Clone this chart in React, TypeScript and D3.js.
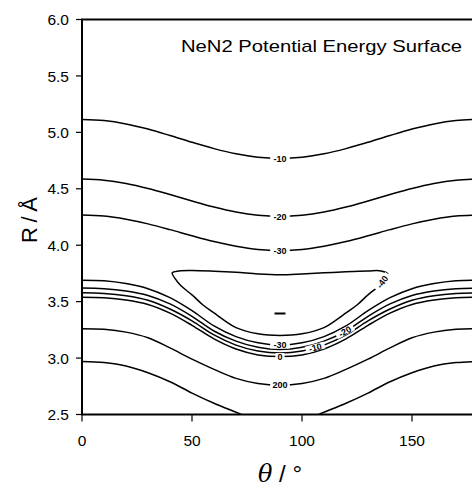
import React from 'react';
import * as d3 from 'd3';

// ---- data ----
const THETA = [0, 10, 20, 30, 40, 50, 60, 70, 80, 90, 100, 110, 120, 130, 140, 150, 160, 170, 180];

// open contour lines R(θ) in Å
const C_UP_M10 = [5.115, 5.105, 5.075, 5.029, 4.972, 4.912, 4.856, 4.81, 4.78, 4.77, 4.78, 4.81, 4.856, 4.912, 4.972, 5.029, 5.075, 5.105, 5.115];
const C_UP_M20 = [4.586, 4.576, 4.547, 4.503, 4.449, 4.392, 4.338, 4.294, 4.265, 4.255, 4.265, 4.294, 4.338, 4.392, 4.449, 4.503, 4.547, 4.576, 4.586];
const C_UP_M30 = [4.267, 4.258, 4.23, 4.189, 4.138, 4.083, 4.032, 3.991, 3.963, 3.954, 3.963, 3.991, 4.032, 4.083, 4.138, 4.189, 4.23, 4.258, 4.267];
const C_LO_M30 = [3.69, 3.685, 3.66, 3.615, 3.535, 3.42, 3.285, 3.19, 3.135, 3.115, 3.135, 3.19, 3.285, 3.42, 3.535, 3.615, 3.66, 3.685, 3.69];
const C_LO_M20 = [3.62, 3.615, 3.595, 3.555, 3.48, 3.37, 3.24, 3.15, 3.095, 3.075, 3.095, 3.15, 3.24, 3.37, 3.48, 3.555, 3.595, 3.615, 3.62];
const C_LO_M10 = [3.578, 3.573, 3.553, 3.513, 3.435, 3.33, 3.205, 3.115, 3.062, 3.044, 3.062, 3.115, 3.205, 3.33, 3.435, 3.513, 3.553, 3.573, 3.578];
const C_LO_0 = [3.54, 3.535, 3.515, 3.475, 3.398, 3.29, 3.17, 3.08, 3.028, 3.013, 3.028, 3.08, 3.17, 3.29, 3.398, 3.475, 3.515, 3.535, 3.54];
const C_LO_200 = [3.26, 3.255, 3.23, 3.18, 3.09, 2.99, 2.9, 2.82, 2.775, 2.76, 2.775, 2.82, 2.9, 2.99, 3.09, 3.18, 3.23, 3.255, 3.26];
const C_LO_HIGH = [2.97, 2.96, 2.93, 2.87, 2.79, 2.69, 2.6, 2.52, 2.44, 2.42, 2.44, 2.52, 2.6, 2.69, 2.79, 2.87, 2.93, 2.96, 2.97];

const LINES = [C_UP_M10, C_UP_M20, C_UP_M30, C_LO_M30, C_LO_M20, C_LO_M10, C_LO_0, C_LO_200, C_LO_HIGH];
// labels: which line, text, θ where it sits
const LABEL_LINE = [0, 1, 2, 3, 4, 5, 6, 7];
const LABEL_TEXT = ['-10', '-20', '-30', '-30', '-20', '-10', '0', '200'];
const LABEL_THETA = [90, 90, 90, 90, 119.5, 106, 90, 90];

// closed -40 contour (θ, R)
const WELL_THETA = [41, 44, 50, 60, 70, 80, 90, 100, 110, 120, 130, 136, 139, 138, 136.5, 135, 130, 125, 120, 115, 110, 100, 90, 80, 70, 65, 60, 55, 50, 45, 42.5];
const WELL_R = [3.755, 3.772, 3.776, 3.77, 3.76, 3.745, 3.738, 3.745, 3.755, 3.765, 3.772, 3.772, 3.745, 3.715, 3.675, 3.64, 3.56, 3.47, 3.40, 3.33, 3.27, 3.215, 3.2, 3.215, 3.27, 3.33, 3.40, 3.47, 3.56, 3.64, 3.70];
const WELL_LABEL = '-40';
const WELL_LABEL_INDEX = 14;

// minimum marker
const MIN_THETA = 90;
const MIN_R = 3.394;

const X_TICKS = [0, 50, 100, 150];
const Y_TICKS = [2.5, 3.0, 3.5, 4.0, 4.5, 5.0, 5.5, 6.0];
const TITLE = 'NeN2 Potential Energy Surface';

const W = 472;
const H = 487;
const FONT = '"Liberation Sans", Arial, Helvetica, sans-serif';

export default function App() {
  const x = d3.scaleLinear().domain([0, 180]).range([82, 478]);
  const y = d3.scaleLinear().domain([2.5, 6.0]).range([414.5, 19.5]);

  const line = d3
    .line<number>()
    .x((_, i) => x(THETA[i]))
    .y((d) => y(d))
    .curve(d3.curveCatmullRom.alpha(0.5));

  const wellLine = d3
    .line<number>()
    .x((_, i) => x(WELL_THETA[i]))
    .y((d) => y(d))
    .curve(d3.curveCatmullRomClosed.alpha(0.5));

  const interp = (vals: number[], t: number) => {
    const i = Math.min(THETA.length - 2, Math.floor(t / 10));
    const f = (t - THETA[i]) / (THETA[i + 1] - THETA[i]);
    return vals[i] + (vals[i + 1] - vals[i]) * f;
  };

  const labels = LABEL_LINE.map((li, k) => {
    const vals = LINES[li];
    const t = LABEL_THETA[k];
    const px = x(t);
    const py = y(interp(vals, t));
    const dx = x(t + 2) - x(t - 2);
    const dy = y(interp(vals, t + 2)) - y(interp(vals, t - 2));
    const ang = (Math.atan2(dy, dx) * 180) / Math.PI;
    return { px, py, ang, text: LABEL_TEXT[k] };
  });

  const wi = WELL_LABEL_INDEX;
  const wpx = x(WELL_THETA[wi]);
  const wpy = y(WELL_R[wi]);
  const wang =
    (Math.atan2(y(WELL_R[wi - 2]) - y(WELL_R[wi + 1]), x(WELL_THETA[wi - 2]) - x(WELL_THETA[wi + 1])) * 180) / Math.PI;

  const labelW = (s: string) => s.length * 5.2 + 4;

  return (
    <svg
      width={W}
      height={H}
      style={{ position: 'absolute', left: 0, top: 0, background: '#fff', display: 'block' }}
      fontFamily={FONT}
    >
      <defs>
        <clipPath id="plotclip">
          <rect x={x(0)} y={y(6)} width={x(180) - x(0)} height={y(2.5) - y(6)} />
        </clipPath>
      </defs>
      <rect x={0} y={0} width={W} height={H} fill="#fff" />

      <g clipPath="url(#plotclip)" fill="none" stroke="#000" strokeWidth={1.5}>
        {LINES.map((vals, i) => (
          <path key={i} d={line(vals) || ''} />
        ))}
        <path d={wellLine(WELL_R) || ''} />
        <line
          x1={x(MIN_THETA - 2.5)}
          x2={x(MIN_THETA + 2.5)}
          y1={y(MIN_R)}
          y2={y(MIN_R)}
          strokeWidth={2}
        />
      </g>

      {labels.map((l, i) => (
        <g key={i} transform={`translate(${l.px},${l.py}) rotate(${l.ang})`}>
          <rect x={-labelW(l.text) / 2} y={-3.5} width={labelW(l.text)} height={7} fill="#fff" />
          <text textAnchor="middle" dy="3.2" fontSize={9} fontWeight="bold" fill="#000">
            {l.text}
          </text>
        </g>
      ))}
      <g transform={`translate(${wpx},${wpy}) rotate(${wang})`}>
        <rect x={-labelW(WELL_LABEL) / 2} y={-3.5} width={labelW(WELL_LABEL)} height={7} fill="#fff" />
        <text textAnchor="middle" dy="3.2" fontSize={9} fontWeight="bold" fill="#000">
          {WELL_LABEL}
        </text>
      </g>

      {/* frame */}
      <g stroke="#000" strokeWidth={2} fill="none">
        <line x1={x(0)} x2={x(0)} y1={y(6)} y2={y(2.5)} />
        <line x1={x(0) - 1} x2={W} y1={y(2.5)} y2={y(2.5)} />
        <line x1={x(0) - 1} x2={W} y1={y(6)} y2={y(6)} />
      </g>

      {/* y axis ticks */}
      {Y_TICKS.map((t) => (
        <g key={t}>
          <line x1={x(0) - 6} x2={x(0)} y1={y(t)} y2={y(t)} stroke="#000" strokeWidth={1.2} />
          <text x={69} y={y(t)} dy="0.36em" textAnchor="end" fontSize={15.5} fill="#000">
            {t.toFixed(1)}
          </text>
        </g>
      ))}
      {/* x axis ticks */}
      {X_TICKS.map((t) => (
        <g key={t}>
          <line x1={x(t)} x2={x(t)} y1={y(2.5)} y2={y(2.5) + 7} stroke="#000" strokeWidth={1.2} />
          <text x={x(t)} y={445.5} textAnchor="middle" fontSize={15.5} fill="#000">
            {t}
          </text>
        </g>
      ))}

      {/* title */}
      <text x={181} y={52} fontSize={17} textLength={281} lengthAdjust="spacingAndGlyphs" fill="#000">
        {TITLE}
      </text>

      {/* axis titles */}
      <text
        transform="translate(36.5,220) rotate(-90)"
        textAnchor="middle"
        fontSize={22}
        textLength={46}
        lengthAdjust="spacing"
        fill="#000"
      >
        R/Å
      </text>
      <text x={280} y={482} textAnchor="middle" fontSize={24} fill="#000" textLength={44} lengthAdjust="spacing">
        <tspan fontStyle="italic" fontFamily='"DejaVu Serif", "Liberation Serif", serif'>θ</tspan>
        <tspan>/°</tspan>
      </text>
    </svg>
  );
}
